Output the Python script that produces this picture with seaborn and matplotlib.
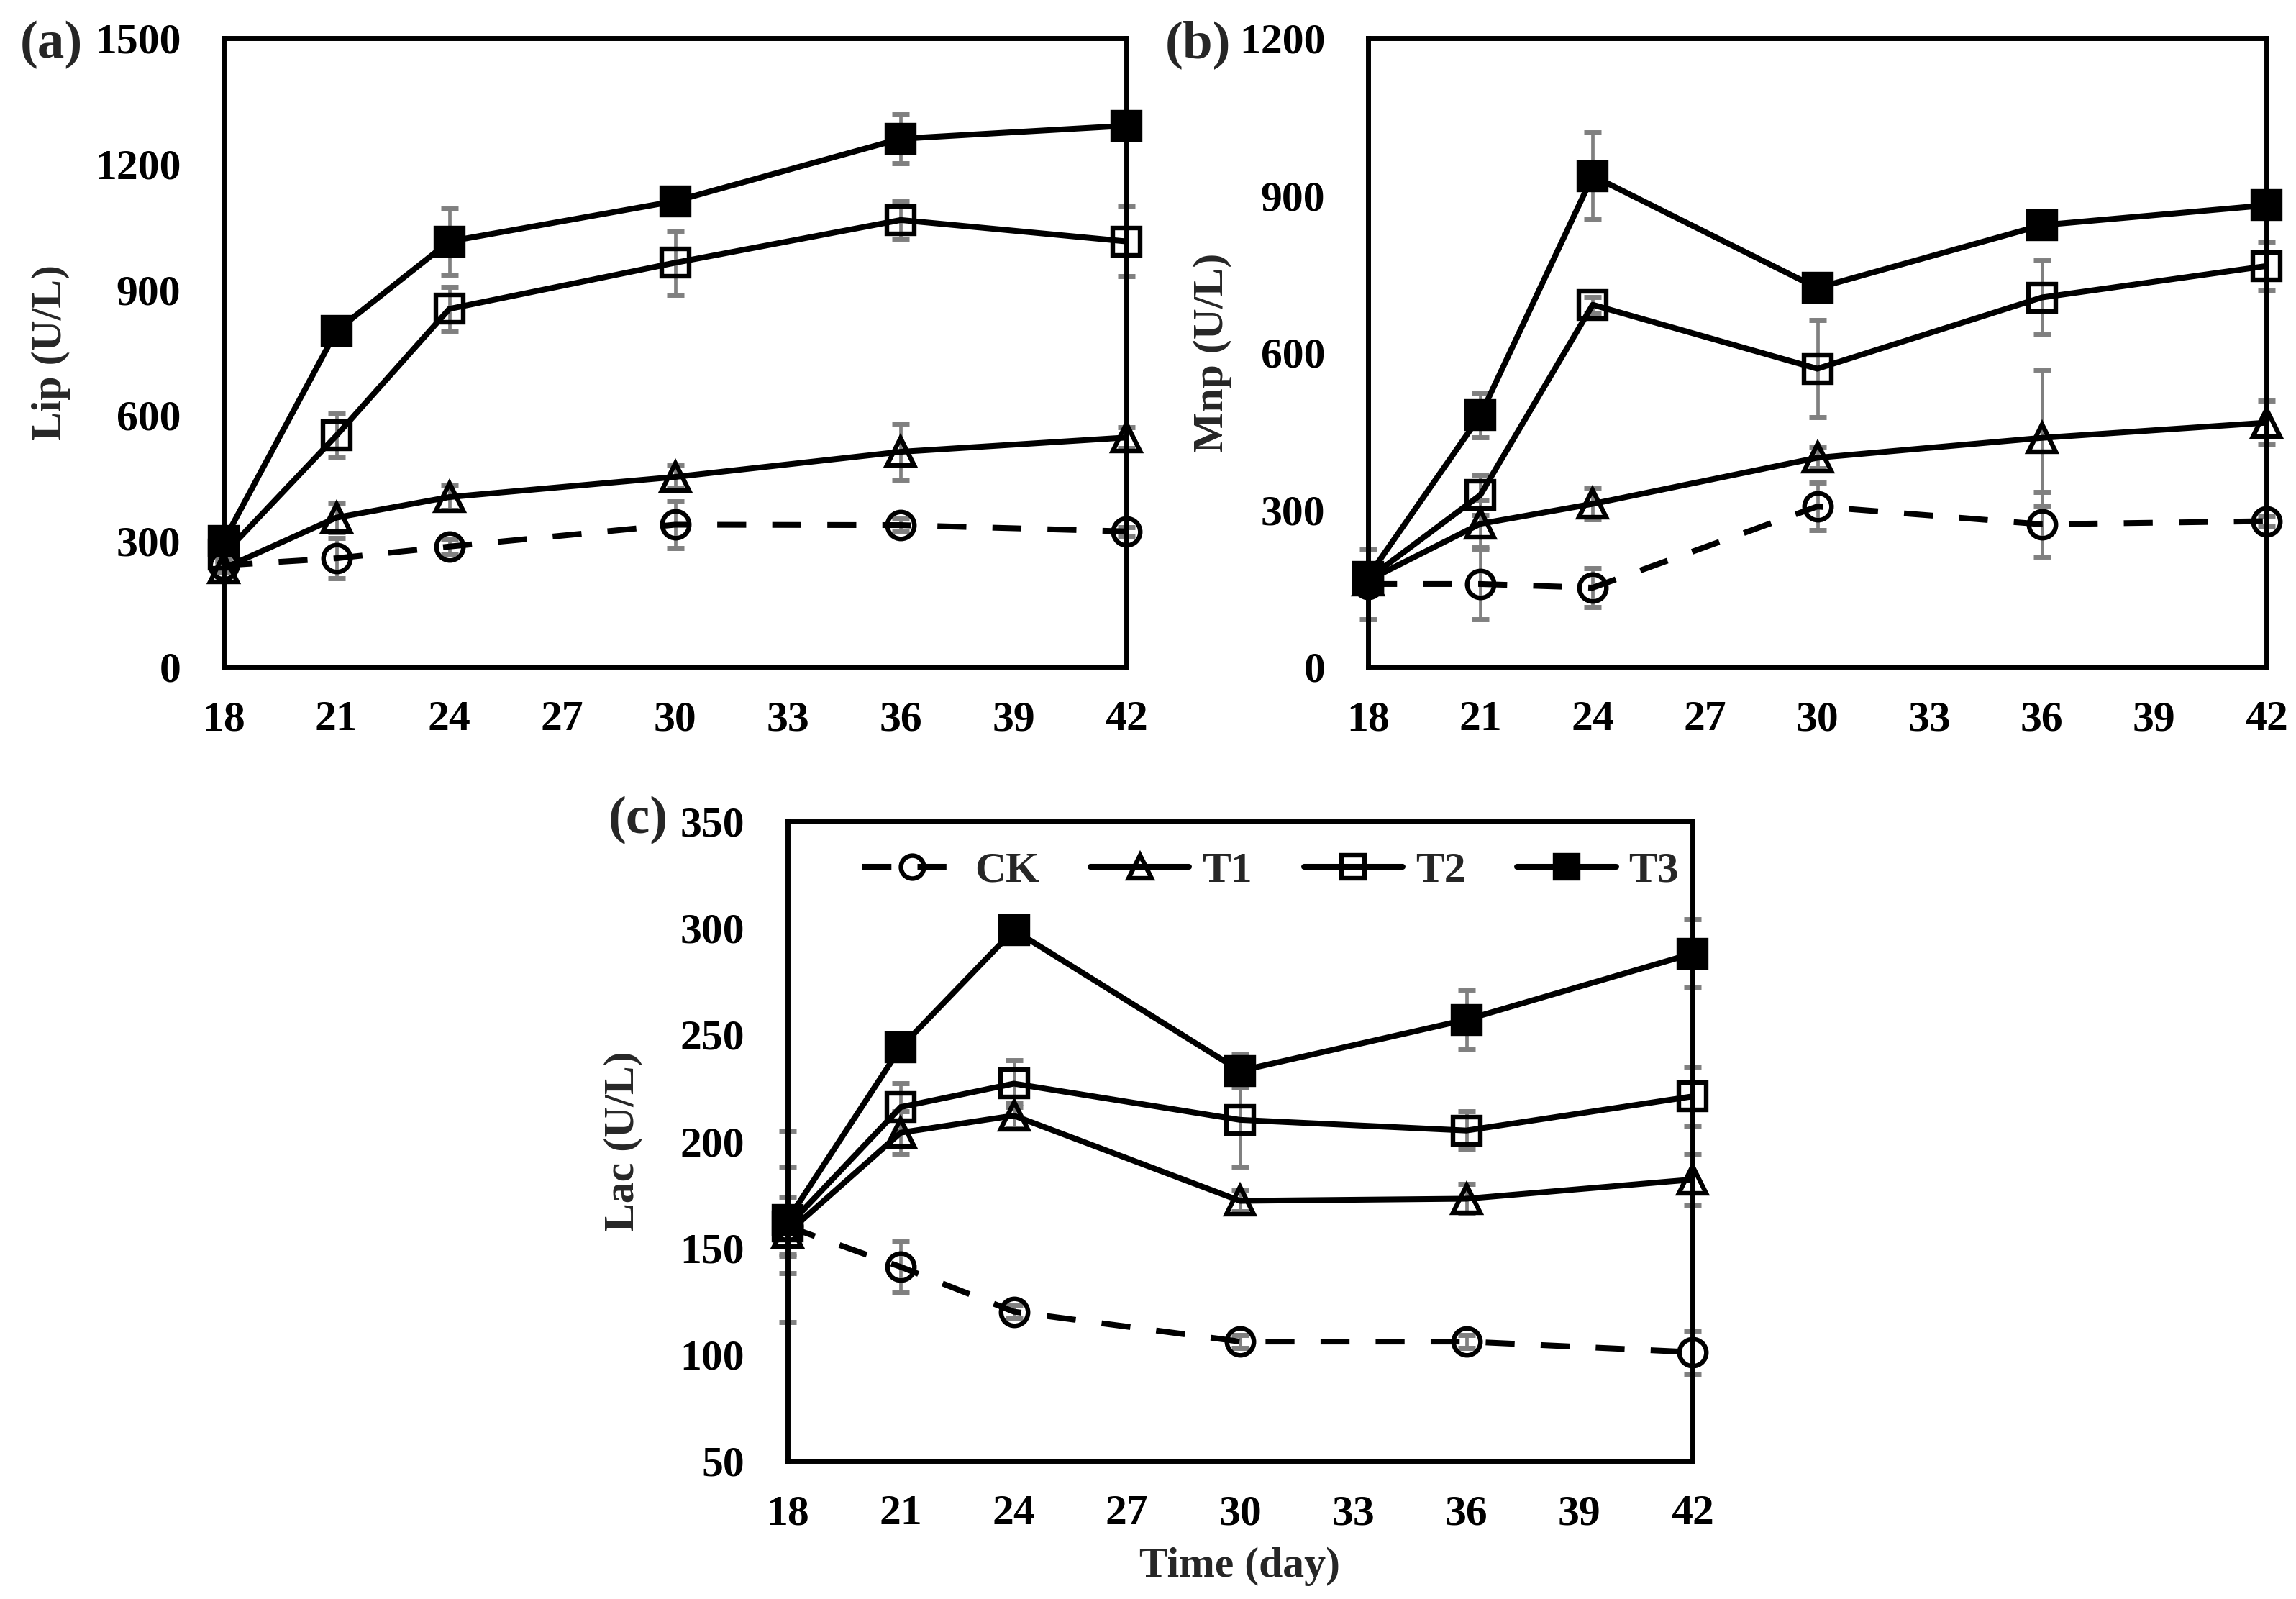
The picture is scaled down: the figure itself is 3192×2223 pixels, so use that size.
import numpy as np
import pandas as pd
import matplotlib
matplotlib.use("Agg")
import matplotlib.pyplot as plt
import seaborn as sns

# ---------------- data ----------------
days = [18, 21, 24, 30, 36, 42]
series_names = ["CK", "T1", "T2", "T3"]

# (a) Lip (U/L)
lip_ck = [242, 259, 287, 339, 338, 323]
lip_ck_err = [10, 48, 18, 56, 15, 10]
lip_t1 = [235, 356, 405, 453, 513, 547]
lip_t1_err = [10, 35, 30, 28, 67, 25]
lip_t2 = [268, 552, 854, 964, 1066, 1015]
lip_t2_err = [10, 52, 53, 76, 45, 83]
lip_t3 = [300, 802, 1015, 1111, 1260, 1291]
lip_t3_err = [15, 15, 79, 15, 58, 15]

# (b) Mnp (U/L)
mnp_ck = [158, 158, 151, 306, 272, 278]
mnp_ck_err = [67, 67, 37, 45, 62, 10]
mnp_t1 = [165, 273, 311, 399, 437, 466]
mnp_t1_err = [10, 45, 30, 20, 130, 42]
mnp_t2 = [168, 328, 691, 569, 705, 765]
mnp_t2_err = [15, 38, 15, 93, 71, 47]
mnp_t3 = [172, 480, 937, 723, 843, 881]
mnp_t3_err = [20, 42, 83, 15, 20, 20]

# (c) Lac (U/L)
lac_ck = [160, 141, 120, 106, 106, 101]
lac_ck_err = [45, 12, 3, 3, 3, 10]
lac_t1 = [157, 204, 212, 172, 173, 182]
lac_t1_err = [10, 10, 6, 5, 7, 12]
lac_t2 = [160, 216, 227, 210, 205, 221]
lac_t2_err = [14, 11, 11, 22, 9, 14]
lac_t3 = [163, 244, 299, 233, 257, 288]
lac_t3_err = [25, 5, 3, 8, 14, 16]

x_ticks = [18, 21, 24, 27, 30, 33, 36, 39, 42]
lip_ticks = [0, 300, 600, 900, 1200, 1500]
mnp_ticks = [0, 300, 600, 900, 1200]
lac_ticks = [50, 100, 150, 200, 250, 300, 350]

panels = [
    dict(tag="(a)", ylabel="Lip (U/L)", ticks=lip_ticks,
         vals=[lip_ck, lip_t1, lip_t2, lip_t3],
         errs=[lip_ck_err, lip_t1_err, lip_t2_err, lip_t3_err]),
    dict(tag="(b)", ylabel="Mnp (U/L)", ticks=mnp_ticks,
         vals=[mnp_ck, mnp_t1, mnp_t2, mnp_t3],
         errs=[mnp_ck_err, mnp_t1_err, mnp_t2_err, mnp_t3_err]),
    dict(tag="(c)", ylabel="Lac (U/L)", ticks=lac_ticks,
         vals=[lac_ck, lac_t1, lac_t2, lac_t3],
         errs=[lac_ck_err, lac_t1_err, lac_t2_err, lac_t3_err]),
]

# ---------------- style ----------------
sns.set_theme(style="white")
plt.rcParams["font.family"] = ["Liberation Serif", "DejaVu Serif"]
plt.rcParams["font.weight"] = "bold"
plt.rcParams["axes.labelweight"] = "bold"

styles = {
    "CK": dict(marker="o", markerfacecolor="none", linestyle=(0, (5, 4.5))),
    "T1": dict(marker="^", markerfacecolor="none", linestyle="-"),
    "T2": dict(marker="s", markerfacecolor="none", linestyle="-"),
    "T3": dict(marker="s", markerfacecolor="black", linestyle="-"),
}

W, H = 3192, 2223
fig = plt.figure(figsize=(W / 100, H / 100), dpi=100)


def rect(l, r, t, b):
    return [l / W, 1 - b / H, (r - l) / W, (b - t) / H]


axes = [
    fig.add_axes(rect(311, 1566, 53, 927)),
    fig.add_axes(rect(1902, 3151, 53, 927)),
    fig.add_axes(rect(1095, 2353, 1142, 2031)),
]
ylabel_x = [(71 - 311) / 1255, (1686 - 1902) / 1249, (866 - 1095) / 1258]
tag_pos = [(28, 80), (1620, 80), (846, 1158)]

FS = 43
for i, (ax, p) in enumerate(zip(axes, panels)):
    handles = []
    for name, v, e in zip(series_names, p["vals"], p["errs"]):
        ax.errorbar(days, v, yerr=e, fmt="none", ecolor="#808080",
                    elinewidth=3.4, capsize=8.3, capthick=5, zorder=1.5,
                    clip_on=False)
        df = pd.DataFrame({"day": days, "value": v})
        st = styles[name]
        sns.lineplot(data=df, x="day", y="value", ax=ax, color="black",
                     marker=st["marker"], markersize=27,
                     markerfacecolor=st["markerfacecolor"],
                     markeredgecolor="black", markeredgewidth=4.6,
                     linewidth=5.8, linestyle=st["linestyle"],
                     clip_on=False, legend=False, errorbar=None, zorder=3)
        line = ax.lines[-1]
        line.set_label(name)
        handles.append(line)

    ax.set_xlim(18, 42)
    ax.set_ylim(p["ticks"][0], p["ticks"][-1])
    ax.set_xticks(x_ticks)
    ax.set_yticks(p["ticks"])
    ax.set_xticklabels([str(t) for t in x_ticks])
    ax.set_yticklabels([str(t) for t in p["ticks"]])
    ax.tick_params(axis="both", direction="in", length=12, width=5,
                   labelsize=FS, color="black", labelcolor="black")
    ax.tick_params(axis="x", pad=34)
    ax.tick_params(axis="y", pad=43)
    for sp in ax.spines.values():
        sp.set_linewidth(5)
        sp.set_color("black")
        sp.set_visible(True)
    ax.set_ylabel(p["ylabel"], fontsize=FS, fontweight="bold")
    ax.yaxis.label.set_verticalalignment("center")
    ax.yaxis.set_label_coords(ylabel_x[i], 0.5)
    ax.set_xlabel("")
    tx, ty = tag_pos[i]
    fig.text(tx / W, 1 - ty / H, p["tag"], fontsize=54, fontweight="bold",
             ha="left", va="baseline")

    if i == 2:
        ax.set_xlabel("Time (day)", fontsize=FS, fontweight="bold")
        ax.xaxis.label.set_verticalalignment("center")
        ax.xaxis.set_label_coords(0.5, -(2178 - 2031) / 889)
        ax.legend(handles=handles, labels=series_names, ncol=4,
                  loc="center", bbox_to_anchor=(0.534, 0.922),
                  frameon=False, handlelength=2.3, handletextpad=0.3,
                  columnspacing=1.2, fontsize=FS, markerscale=0.85,
                  borderaxespad=0, borderpad=0)

fig.savefig("out.png", dpi=100)
